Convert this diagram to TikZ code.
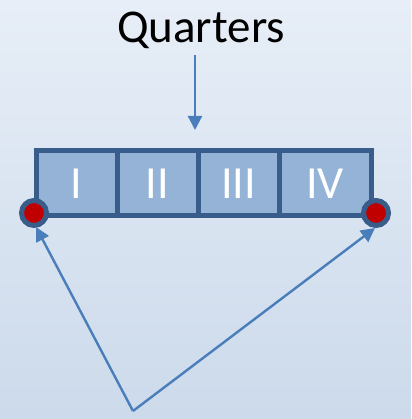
\documentclass[tikz,border=0pt]{standalone}
\usepackage{fontspec}
\setmainfont{Carlito}
\usetikzlibrary{arrows.meta}
\definecolor{bgtop}{HTML}{E7EEF7}
\definecolor{bgbot}{HTML}{CCDAEB}
\definecolor{cellfill}{HTML}{95B3D7}
\definecolor{cellline}{HTML}{385D8A}
\definecolor{arrowblue}{HTML}{4A7EBB}
\definecolor{dotred}{HTML}{C00000}
\tikzset{
  cellbox/.style={draw=cellline, fill=cellfill, line width=5pt, minimum height=65pt,
    inner sep=0pt, text=white, font=\fontsize{46}{46}\selectfont},
  dotnode/.style={circle, draw=cellline, fill=dotred, line width=5pt, minimum size=25pt, inner sep=0pt},
  conn/.style={draw=arrowblue, line width=2.4pt, -{Triangle[width=14pt,length=14pt]}}
}
\begin{document}
\begin{tikzpicture}[x=1pt,y=1pt]
\shade[top color=bgtop, bottom color=bgbot] (0,0) rectangle (411,419);
\useasboundingbox (0,0) rectangle (411,419);
\node[anchor=base, font=\fontsize{47}{47}\selectfont, inner sep=0pt] (title) at (201,376) {Quarters};
\coordinate (qs) at (195,364);
\coordinate (qe) at (195,289);
\draw[conn] (qs) -- (qe);
\node[cellbox, minimum width=81pt] (c1) at (76.5,235.5) {I};
\node[cellbox, minimum width=81pt] (c2) at (157.5,235.5) {II};
\node[cellbox, minimum width=81pt] (c3) at (238.5,235.5) {III};
\node[cellbox, minimum width=92pt] (c4) at (325,235.5) {IV};
\node[dotnode] (ld) at (34,206) {};
\node[dotnode] (rd) at (376,206) {};
\coordinate (v) at (133,8);
\coordinate (lt) at (36,192);
\coordinate (rt) at (375,191);
\draw[conn] (v) -- (lt);
\draw[conn] (v) -- (rt);
\end{tikzpicture}
\end{document}
